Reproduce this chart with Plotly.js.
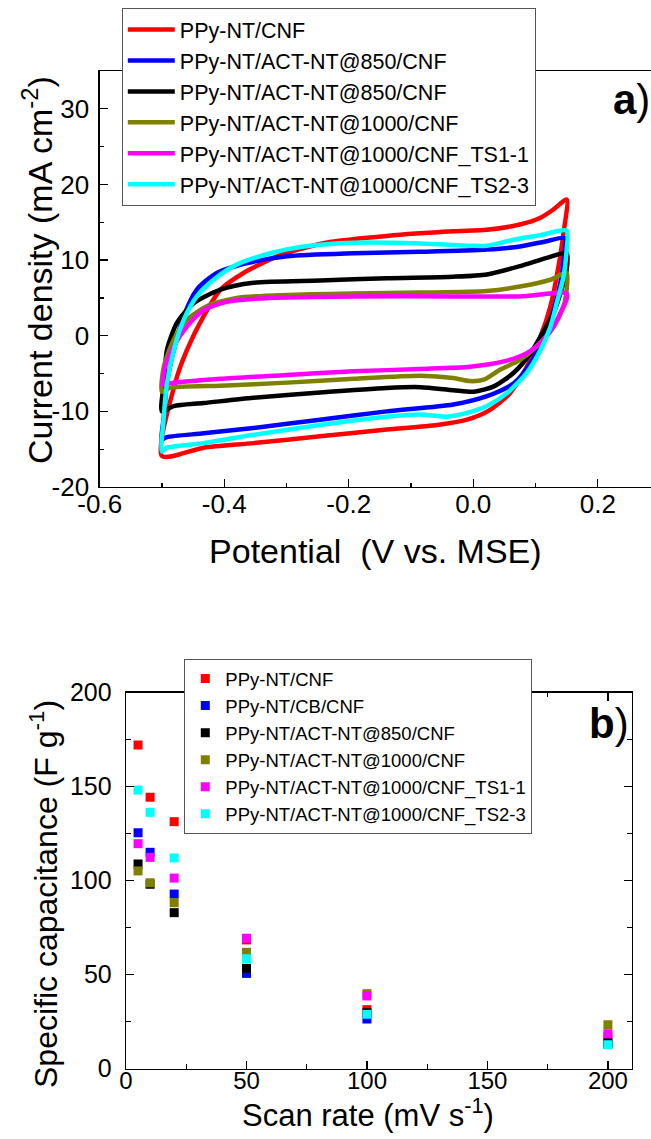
<!DOCTYPE html>
<html>
<head>
<meta charset="utf-8">
<script src="https://cdn.plot.ly/plotly-3.0.1.min.js"></script>
<style>
html,body{margin:0;padding:0;background:#fff;}
#chart{width:651px;height:1139px;}
</style>
</head>
<body>
<div id="chart"></div>
<script>
// ---------- Panel a) cyclic voltammograms ----------
const seriesNamesA = ["PPy-NT/CNF","PPy-NT/ACT-NT@850/CNF","PPy-NT/ACT-NT@850/CNF","PPy-NT/ACT-NT@1000/CNF","PPy-NT/ACT-NT@1000/CNF_TS1-1","PPy-NT/ACT-NT@1000/CNF_TS2-3"];
const colors = ["#ff0000","#0000ff","#000000","#808000","#ff00ff","#00ffff"];

const vRed = [-0.5,-0.479,-0.46,-0.433,-0.406,-0.369,-0.315,-0.272,-0.230,-0.139,-0.032,0.022,0.075,0.108,0.129,0.15,
              0.145,0.134,0.124,0.108,0.086,0.059,0.027,-0.010,-0.058,-0.139,-0.246,-0.353,-0.433,-0.5];
const iRed = [-15.9,-6.3,-1.9,2.6,6.1,8.3,10.5,11.6,12.4,13.2,13.8,14.0,14.7,15.6,16.7,18.0,
              13.6,7.8,3.9,-0.1,-4.1,-7.6,-9.8,-11.1,-11.8,-12.4,-13.3,-14.2,-14.8,-15.9];

const vBlue = [-0.5,-0.497,-0.492,-0.481,-0.465,-0.444,-0.412,-0.363,-0.299,-0.192,-0.085,0.022,0.075,0.118,0.147,
               0.145,0.140,0.129,0.113,0.092,0.065,0.022,-0.032,-0.139,-0.246,-0.353,-0.433,-0.492,-0.5];
const iBlue = [-13.7,-10.7,-6.3,-1.9,2.6,6.1,8.3,9.6,10.5,10.9,11.1,11.4,11.8,12.5,12.9,
               10.0,7.0,3.4,-0.1,-3.6,-6.3,-8.0,-9.1,-10.0,-11.1,-12.2,-12.9,-13.4,-13.7];

const vBlack = [-0.5,-0.497,-0.492,-0.476,-0.449,-0.406,-0.353,-0.246,-0.139,-0.032,0.022,0.075,0.118,0.15,
                0.15,0.140,0.129,0.113,0.092,0.065,0.033,0.001,-0.032,-0.085,-0.139,-0.246,-0.353,-0.433,-0.481,-0.5];
const iBlack = [-10.0,-6.3,-1.9,1.7,4.3,6.1,7.0,7.3,7.6,7.8,8.1,9.2,10.3,10.9,
                8.7,5.6,3.0,0.6,-2.3,-4.9,-6.7,-7.4,-7.2,-6.8,-6.9,-7.5,-8.2,-8.9,-9.3,-10.0];

const vOlive = [-0.5,-0.497,-0.481,-0.460,-0.428,-0.380,-0.299,-0.192,-0.085,0.022,0.075,0.124,0.15,
                0.15,0.145,0.129,0.102,0.075,0.043,0.017,-0.005,-0.032,-0.085,-0.192,-0.299,-0.406,-0.487,-0.5];
const iOlive = [-7.4,-4.1,-0.5,2.1,3.9,5.0,5.4,5.6,5.7,5.9,6.5,7.4,8.3,
                6.1,3.9,1.2,-1.4,-3.2,-4.5,-5.8,-6.0,-5.6,-5.3,-5.7,-6.2,-6.6,-6.9,-7.4];

const vMagenta = [-0.5,-0.495,-0.481,-0.460,-0.433,-0.396,-0.326,-0.192,-0.032,0.075,0.15,
                  0.15,0.140,0.129,0.113,0.086,0.049,-0.005,-0.085,-0.192,-0.299,-0.406,-0.487,-0.5];
const iMagenta = [-6.7,-4.1,-1.4,1.2,3.4,4.5,5.0,5.2,5.2,5.2,5.6,
                  4.8,3.0,1.2,-0.5,-2.3,-3.4,-4.1,-4.4,-4.7,-5.2,-5.7,-6.3,-6.5];

const vCyan = [-0.5,-0.497,-0.492,-0.481,-0.465,-0.444,-0.417,-0.380,-0.326,-0.272,-0.192,-0.085,-0.032,-0.005,0.022,0.065,0.108,0.15,
               0.15,0.145,0.134,0.124,0.108,0.086,0.054,0.022,-0.010,-0.042,-0.085,-0.139,-0.246,-0.353,-0.433,-0.492,-0.5];
const iCyan = [-15.3,-10.7,-6.3,-1.9,2.1,5.2,7.4,9.4,10.9,11.8,12.3,12.2,12.0,11.9,11.9,12.7,13.3,13.9,
               11.4,7.8,4.3,1.2,-1.9,-4.9,-7.6,-9.3,-10.2,-10.7,-10.4,-10.7,-11.8,-13.1,-14.2,-14.8,-15.3];

const vAll = [vRed, vBlue, vBlack, vOlive, vMagenta, vCyan];
const iAll = [iRed, iBlue, iBlack, iOlive, iMagenta, iCyan];

const xTickValsA = [-0.6,-0.4,-0.2,0.0,0.2];
const xTickTextA = ["-0.6","-0.4","-0.2","0.0","0.2"];
const yTickValsA = [-20,-10,0,10,20,30];
const yTickTextA = ["-20","-10","0","10","20","30"];

// ---------- Panel b) specific capacitance ----------
const seriesNamesB = ["PPy-NT/CNF","PPy-NT/CB/CNF","PPy-NT/ACT-NT@850/CNF","PPy-NT/ACT-NT@1000/CNF","PPy-NT/ACT-NT@1000/CNF_TS1-1","PPy-NT/ACT-NT@1000/CNF_TS2-3"];
const scanRates = [5, 10, 20, 50, 100, 200];
const capRed     = [172.2, 144.4, 131.4, 68.5, 31.4, 17.0];
const capBlue    = [125.5, 115.1, 92.9, 50.7, 26.4, 13.0];
const capBlack   = [108.9, 98.1, 83.0, 53.4, 29.8, 13.8];
const capOlive   = [105.2, 98.9, 88.3, 61.9, 39.9, 23.4];
const capMagenta = [119.7, 112.4, 101.4, 69.4, 38.7, 18.6];
const capCyan    = [148.2, 136.4, 112.1, 58.5, 28.9, 12.8];
const capAll = [capRed, capBlue, capBlack, capOlive, capMagenta, capCyan];

const xTickValsB = [0,50,100,150,200];
const yTickValsB = [0,50,100,150,200];

const titleXA = 'Potential\u00a0 (V vs. MSE)';
const titleYA = 'Current density (mA cm<sup>-2</sup>)';
const titleXB = 'Scan rate (mV s<sup>-1</sup>)';
const titleYB = 'Specific capacitance (F g<sup>-1</sup>)';

const FONT = "'Liberation Sans', Arial, Helvetica, sans-serif";

const traces = [];
for (let k = 0; k < 6; k++) {
  traces.push({
    x: vAll[k], y: iAll[k], type: 'scatter', mode: 'lines',
    name: seriesNamesA[k], xaxis: 'x', yaxis: 'y', legend: 'legend',
    line: {color: colors[k], width: 4.5, shape: 'spline', smoothing: 0.7}
  });
}
for (let k = 0; k < 6; k++) {
  traces.push({
    x: scanRates, y: capAll[k], type: 'scatter', mode: 'markers',
    name: seriesNamesB[k], xaxis: 'x2', yaxis: 'y2', legend: 'legend2',
    marker: {color: colors[k], size: 9, symbol: 'square', line: {width: 0}}
  });
}

const axisCommon = {
  showline: true, linecolor: '#000', linewidth: 1.3,
  ticks: 'inside', ticklen: 8, tickwidth: 1.3, tickcolor: '#000',
  showgrid: false, zeroline: false, automargin: false,
  tickfont: {family: FONT, size: 26, color: '#000'}
};

const layout = {
  width: 651, height: 1139,
  margin: {l: 0, r: 0, t: 0, b: 0},
  paper_bgcolor: '#fff', plot_bgcolor: '#fff',
  font: {family: FONT, color: '#000'},
  showlegend: true,
  xaxis: Object.assign({}, axisCommon, {
    domain: [0.15315, 1], range: [-0.6, 0.2855], mirror: true,
    tickvals: xTickValsA, ticktext: xTickTextA,
    minor: {ticks: 'inside', ticklen: 4.5, tickwidth: 1.3, tickcolor: '#000', dtick: 0.1, tick0: -0.6},
    ticklabelstandoff: -7,
    title: {text: titleXA, font: {family: FONT, size: 34, color: '#000'}, standoff: 21},
    anchor: 'y'
  }),
  yaxis: Object.assign({}, axisCommon, {
    domain: [0.57243, 0.93766], range: [-20, 35],
    tickvals: yTickValsA, ticktext: yTickTextA,
    minor: {ticks: 'inside', ticklen: 4.5, tickwidth: 1.3, tickcolor: '#000', dtick: 5, tick0: -20},
    ticklabelstandoff: 4,
    anchor: 'x'
  }),
  xaxis2: Object.assign({}, axisCommon, {
    domain: [0.19355, 0.97081], range: [0, 210], mirror: 'ticks',
    tickvals: xTickValsB,
    tickfont: {family: FONT, size: 24, color: '#000'},
    minor: {ticks: 'inside', ticklen: 4.5, tickwidth: 1.3, tickcolor: '#000', dtick: 25, tick0: 0},
    ticklabelstandoff: -10,
    anchor: 'y2'
  }),
  yaxis2: Object.assign({}, axisCommon, {
    domain: [0.06172, 0.39183], range: [0, 200], mirror: 'ticks',
    tickvals: yTickValsB,
    tickfont: {family: FONT, size: 25, color: '#000'},
    minor: {ticks: 'inside', ticklen: 4.5, tickwidth: 1.3, tickcolor: '#000', dtick: 25, tick0: 0},
    ticklabelstandoff: 8,
    anchor: 'x2'
  }),
  legend: {
    x: 0.1871, y: 1 - 8/1139, xanchor: 'left', yanchor: 'top',
    bgcolor: '#fff', bordercolor: '#555', borderwidth: 1,
    font: {family: FONT, size: 21.5, color: '#000'},
    itemwidth: 47, tracegroupgap: 0
  },
  legend2: {
    x: 0.2831, y: 1 - 659/1139, xanchor: 'left', yanchor: 'top',
    bgcolor: '#fff', bordercolor: '#555', borderwidth: 1,
    font: {family: FONT, size: 18.5, color: '#000'},
    tracegroupgap: 0
  },
  annotations: [
    {text: titleYA, xref: 'paper', yref: 'paper', x: 37/651, y: 1 - 270/1139, textangle: -90,
     xanchor: 'center', yanchor: 'middle', showarrow: false, font: {family: FONT, size: 34, color: '#000'}},
    {text: titleYB, xref: 'paper', yref: 'paper', x: 44/651, y: 1 - 894/1139, textangle: -90,
     xanchor: 'center', yanchor: 'middle', showarrow: false, font: {family: FONT, size: 32, color: '#000'}},
    {text: titleXB, xref: 'paper', yref: 'paper', x: 368/651, y: 1 - 1113/1139,
     xanchor: 'center', yanchor: 'middle', showarrow: false, font: {family: FONT, size: 31, color: '#000'}},
    {text: '<b>a</b>)', xref: 'paper', yref: 'paper', x: 611/651, y: 1 - 100/1139,
     xanchor: 'left', yanchor: 'middle', showarrow: false, font: {family: FONT, size: 42, color: '#000'}},
    {text: '<b>b</b>)', xref: 'paper', yref: 'paper', x: 587/651, y: 1 - 723/1139,
     xanchor: 'left', yanchor: 'middle', showarrow: false, font: {family: FONT, size: 42, color: '#000'}}
  ]
};

Plotly.newPlot('chart', traces, layout, {staticPlot: true, displayModeBar: false});
</script>
</body>
</html>
